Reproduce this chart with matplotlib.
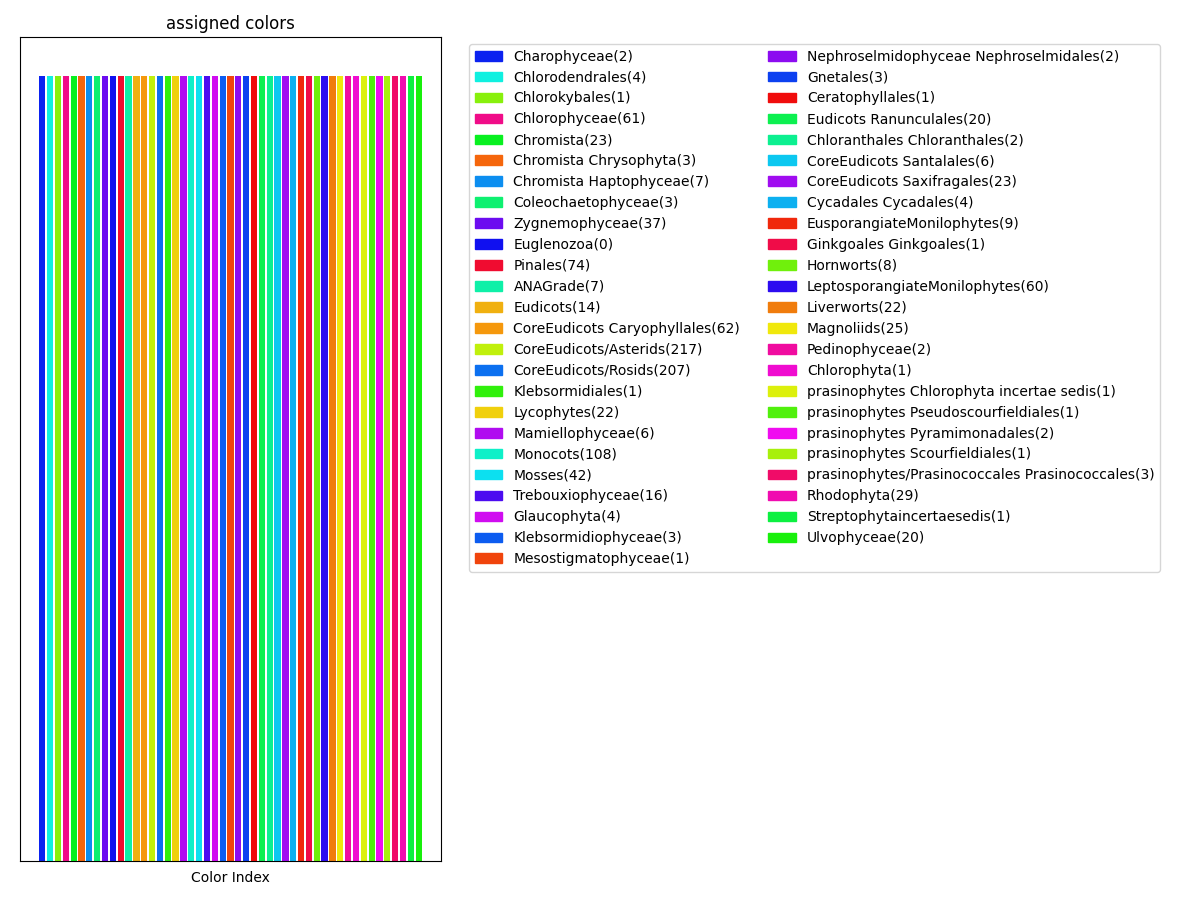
import numpy as np
import matplotlib
matplotlib.use("Agg")
import matplotlib.pyplot as plt
from matplotlib.patches import Patch

# nombres de grupos (con conteo) y color asignado
groups = [
    "Charophyceae(2)", "Chlorodendrales(4)", "Chlorokybales(1)", "Chlorophyceae(61)",
    "Chromista(23)", "Chromista Chrysophyta(3)", "Chromista Haptophyceae(7)",
    "Coleochaetophyceae(3)", "Zygnemophyceae(37)", "Euglenozoa(0)", "Pinales(74)",
    "ANAGrade(7)", "Eudicots(14)", "CoreEudicots Caryophyllales(62)",
    "CoreEudicots/Asterids(217)", "CoreEudicots/Rosids(207)", "Klebsormidiales(1)",
    "Lycophytes(22)", "Mamiellophyceae(6)", "Monocots(108)", "Mosses(42)",
    "Trebouxiophyceae(16)", "Glaucophyta(4)", "Klebsormidiophyceae(3)",
    "Mesostigmatophyceae(1)", "Nephroselmidophyceae Nephroselmidales(2)", "Gnetales(3)",
    "Ceratophyllales(1)", "Eudicots Ranunculales(20)", "Chloranthales Chloranthales(2)",
    "CoreEudicots Santalales(6)", "CoreEudicots Saxifragales(23)", "Cycadales Cycadales(4)",
    "EusporangiateMonilophytes(9)", "Ginkgoales Ginkgoales(1)", "Hornworts(8)",
    "LeptosporangiateMonilophytes(60)", "Liverworts(22)", "Magnoliids(25)",
    "Pedinophyceae(2)", "Chlorophyta(1)", "prasinophytes Chlorophyta incertae sedis(1)",
    "prasinophytes Pseudoscourfieldiales(1)", "prasinophytes Pyramimonadales(2)",
    "prasinophytes Scourfieldiales(1)", "prasinophytes/Prasinococcales Prasinococcales(3)",
    "Rhodophyta(29)", "Streptophytaincertaesedis(1)", "Ulvophyceae(20)",
]

colors = [
    "#0b22f0", "#0ff0e0", "#88f00c", "#f00c88", "#08f020", "#f5660c", "#0c8ef0",
    "#0ef070", "#6c0cf0", "#1010f0", "#f00c30", "#0ef0a8", "#f0b010", "#f5980c",
    "#c0f00c", "#0c70f0", "#30f00c", "#f0d00c", "#b00cf0", "#0ef0c8", "#0ce0f0",
    "#4c0cf0", "#d00cf0", "#0c5cf0", "#f0440c", "#8c0cf0", "#0c40f0", "#f00c0c",
    "#0cf050", "#0cf090", "#0cc8f0", "#a00cf0", "#0cb0f0", "#f0280c", "#f00c48",
    "#70f00c", "#2c0cf0", "#f07c0c", "#f0e80c", "#f00ca0", "#f00cd0", "#dcf00c",
    "#50f00c", "#f00cf0", "#a8f00c", "#f00c68", "#f00cb0", "#0cf040", "#18f00c",
]

heights = [1] * len(groups)

fig, ax = plt.subplots(figsize=(12, 9), dpi=100)
ax.bar(np.arange(len(groups)), heights, color=colors)

handles = [Patch(color=c, label=g) for g, c in zip(groups, colors)]
ax.legend(handles=handles, bbox_to_anchor=(1.05, 1), loc="upper left", ncol=2)

ax.set_title("assigned colors")
ax.set_xlabel("Color Index", labelpad=7)
ax.set_xticks([])
ax.set_yticks([])

plt.subplots_adjust(left=20 / 1200, right=441 / 1200, top=1 - 37 / 900, bottom=1 - 861 / 900)
plt.savefig("out.png")
